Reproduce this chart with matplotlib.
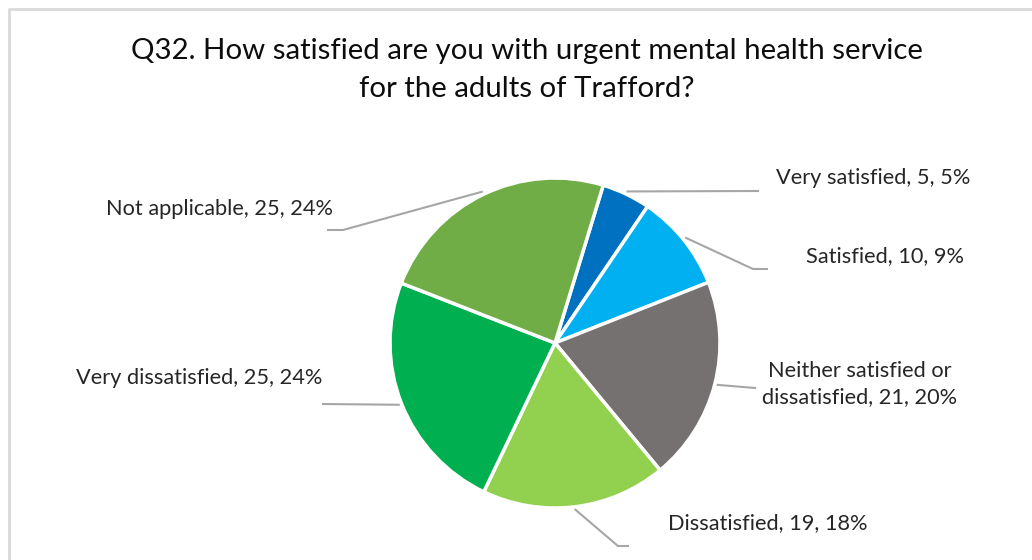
import numpy as np
import matplotlib
matplotlib.use("Agg")
import matplotlib.pyplot as plt

# Survey responses
categories = ["Very satisfied", "Satisfied", "Neither satisfied or\ndissatisfied",
              "Dissatisfied", "Very dissatisfied", "Not applicable"]
counts = [5, 10, 21, 19, 25, 25]
percents = [5, 9, 20, 18, 24, 24]
colors = ["#0070C0", "#00B0F0", "#767171", "#92D050", "#00B050", "#70AD47"]
title = "Q32. How satisfied are you with urgent mental health service\nfor the adults of Trafford?"

W, H = 1032, 560
plt.rcParams["font.family"] = ["Lato", "DejaVu Sans"]

fig = plt.figure(figsize=(W / 100, H / 100), dpi=100)
ax = fig.add_axes([0, 0, 1, 1])

# chart frame
ax.plot([9, 9, W + 5], [-5, H - 9, H - 9], color="#D9D9D9", lw=2, solid_capstyle="butt")

cx, cy, r = 555, H - 343, 165
wedges, _ = ax.pie(counts, colors=colors, startangle=73, counterclock=False,
                   center=(cx, cy), radius=r, frame=True,
                   wedgeprops=dict(edgecolor="white", linewidth=2.5))
ax.set_xlim(0, W)
ax.set_ylim(0, H)
ax.set_aspect("equal")
ax.axis("off")

# label layout: text anchor, alignment, leader path (elbow points after the wedge edge)
layout = [
    dict(xy=(776, 178), ha="left", path=[(758, 191)]),
    dict(xy=(806, 256), ha="left", path=[(753, 269), (767, 269)]),
    dict(xy=(860, 384), ha="center", path=[(755, 388)]),
    dict(xy=(668, 523), ha="left", path=[(618, 546), (628, 546)]),
    dict(xy=(322, 378), ha="right", path=[(323, 404)]),
    dict(xy=(333, 209), ha="right", path=[(343, 230), (328, 230)]),
]

for w, cat, n, p, lay in zip(wedges, categories, counts, percents, layout):
    mid = np.deg2rad((w.theta1 + w.theta2) / 2)
    sx, sy = cx + (r + 3) * np.cos(mid), cy + (r + 3) * np.sin(mid)
    pts = [(sx, sy)] + [(x, H - y) for x, y in lay["path"]]
    ax.plot([q[0] for q in pts], [q[1] for q in pts], color="#A6A6A6", lw=1.5)
    tx, ty = lay["xy"]
    ax.text(tx, H - ty, f"{cat}, {n}, {p}%", ha=lay["ha"], va="center",
            fontsize=15.7, color="#262626", linespacing=1.33,
            multialignment="center")

ax.text(527, H - 70, title, ha="center", va="center", fontsize=21.2,
        color="#0D0D0D", linespacing=1.6)

fig.savefig("out.png", dpi=100, facecolor="white")
